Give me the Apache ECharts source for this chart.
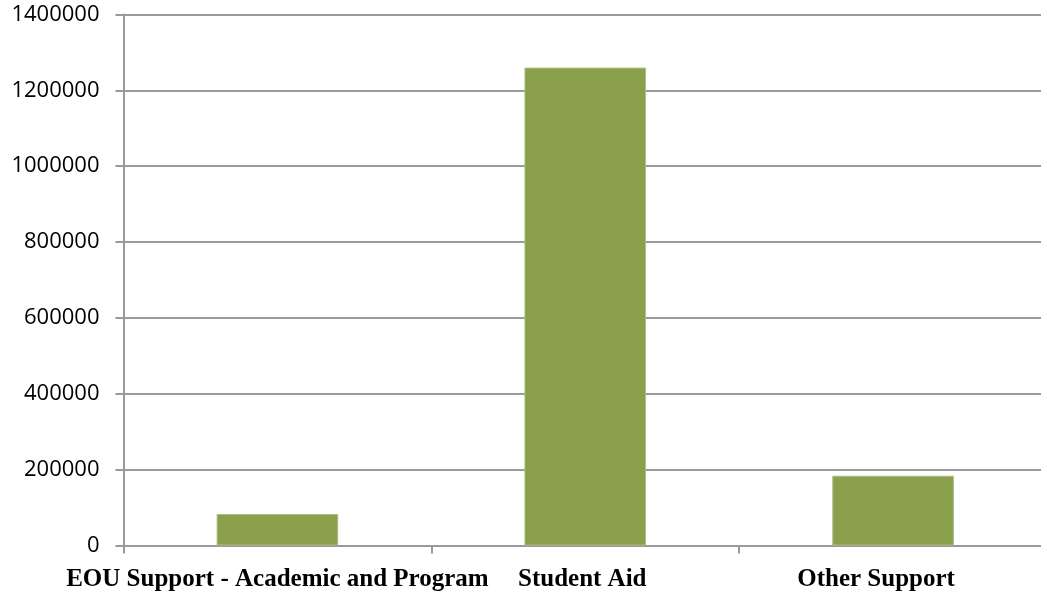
<!DOCTYPE html>
<html>
<head>
<meta charset="utf-8">
<script src="https://cdn.jsdelivr.net/npm/echarts@6/dist/echarts.min.js"></script>
<style>html,body{margin:0;padding:0;background:#fff;}#c{width:1047px;height:594px;}</style>
</head>
<body>
<div id="c"></div>
<script>
var categories = ['EOU Support - Academic and Program', 'Student Aid', 'Other Support'];
var values = [83000, 1260000, 184000];
var yTicks = [0, 200000, 400000, 600000, 800000, 1000000, 1200000, 1400000];

var chart = echarts.init(document.getElementById('c'));
var axisGray = '#9a9a9a';
var xFont = { fontFamily: 'Liberation Serif', fontWeight: 'bold', fontSize: 25, color: '#000' };
chart.setOption({
  animation: false,
  backgroundColor: '#ffffff',
  grid: { left: 123.5, top: 14.5, right: -4, height: 531, containLabel: false },
  xAxis: {
    type: 'category',
    data: categories,
    boundaryGap: true,
    axisLine: { lineStyle: { color: axisGray, width: 2 } },
    axisTick: { show: true, length: 8, lineStyle: { color: axisGray, width: 2 } },
    axisLabel: Object.assign({
      margin: 22,
      interval: 0,
      formatter: function (v, i) { return i === 2 ? '{o|' + v + '}' : (i === 1 ? '{s|' + v + '}' : v); },
      rich: {
        o: Object.assign({ padding: [0, 34, 0, 0] }, xFont),
        s: Object.assign({ padding: [0, 6, 0, 0] }, xFont)
      }
    }, xFont),
    splitLine: { show: false }
  },
  yAxis: {
    type: 'value',
    min: yTicks[0],
    max: yTicks[yTicks.length - 1],
    interval: 200000,
    axisLine: { show: true, lineStyle: { color: axisGray, width: 2 } },
    axisTick: { show: true, length: 8, lineStyle: { color: axisGray, width: 2 } },
    axisLabel: {
      margin: 24,
      fontFamily: 'Open Sans',
      fontSize: 22,
      color: '#000',
      formatter: function (v) { return String(v); }
    },
    splitLine: { show: true, lineStyle: { color: axisGray, width: 2 } }
  },
  series: [{
    type: 'bar',
    data: values,
    barWidth: '39.5%',
    itemStyle: { color: '#8aa04c', borderColor: '#a9bf7e', borderWidth: 1 }
  }],
  graphic: [{
    type: 'rect',
    shape: { x: 1041, y: 0, width: 10, height: 560 },
    style: { fill: '#ffffff' },
    z: 100
  }]
});
</script>
</body>
</html>
